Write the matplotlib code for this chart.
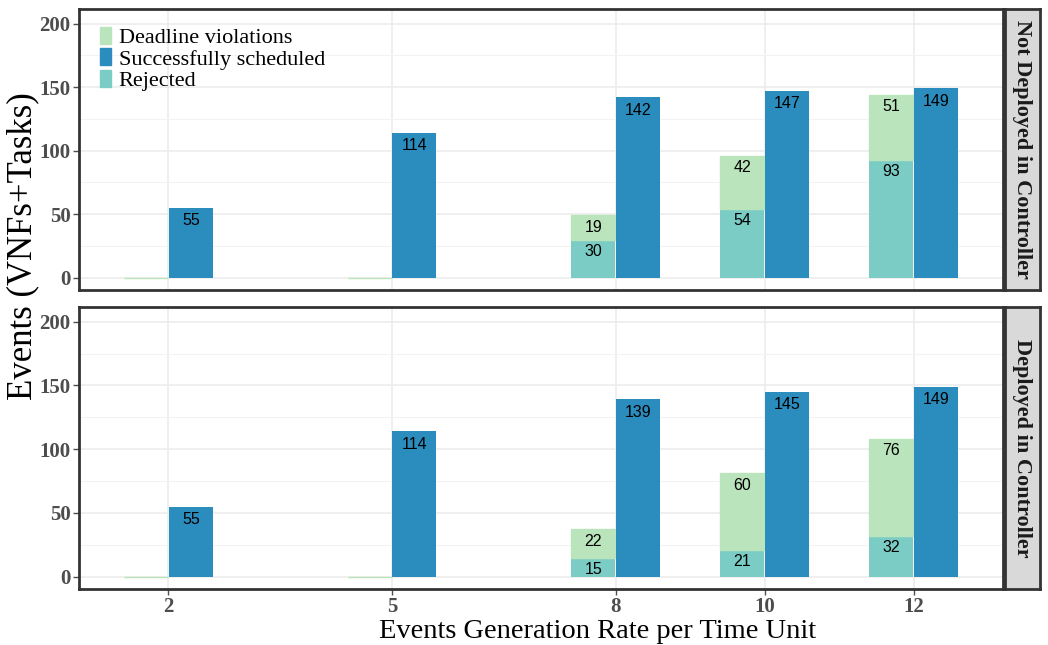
import numpy as np
import matplotlib
matplotlib.use("Agg")
import matplotlib.pyplot as plt
from matplotlib.patches import Patch

# data
rates = [2, 5, 8, 10, 12]
panels = ["Not Deployed in Controller", "Deployed in Controller"]
rejected = {"Not Deployed in Controller": [0, 0, 30, 54, 93],
            "Deployed in Controller": [0, 0, 15, 21, 32]}
deadline = {"Not Deployed in Controller": [0, 0, 19, 42, 51],
            "Deployed in Controller": [0, 0, 22, 60, 76]}
success = {"Not Deployed in Controller": [55, 114, 142, 147, 149],
           "Deployed in Controller": [55, 114, 139, 145, 149]}

c_dead = "#bae4bc"
c_succ = "#2b8cbe"
c_rej = "#7bccc4"

serif = "Liberation Serif"
sans = "Liberation Sans"

fig = plt.figure(figsize=(10.48, 6.45), dpi=100)
W, H = 1048, 645
L, R = 79, 1003
boxes = [(9, 290), (307, 589)]
axes = []
for top, bot in boxes:
    ax = fig.add_axes([L / W, 1 - bot / H, (R - L) / W, (bot - top) / H])
    axes.append(ax)

x = np.array(rates, dtype=float)
bw = 0.59
for i, (ax, name) in enumerate(zip(axes, panels)):
    rj = np.array(rejected[name])
    dl = np.array(deadline[name])
    sc = np.array(success[name])
    ax.bar(x - 0.3, rj, width=bw, color=c_rej, zorder=2)
    ax.bar(x - 0.3, dl, bottom=rj, width=bw, color=c_dead, edgecolor=c_dead,
           linewidth=1.0, zorder=2)
    ax.bar(x + 0.3, sc, width=bw, color=c_succ, zorder=2)
    for xi, r, d, s in zip(x, rj, dl, sc):
        if r > 0:
            ax.annotate(str(r), (xi - 0.3, r), xytext=(0, -3), textcoords="offset points",
                        ha="center", va="top", fontsize=11.5, family=sans, zorder=3)
        if d > 0:
            ax.annotate(str(d), (xi - 0.3, r + d), xytext=(0, -3), textcoords="offset points",
                        ha="center", va="top", fontsize=11.5, family=sans, zorder=3)
        ax.annotate(str(s), (xi + 0.3, s), xytext=(0, -4), textcoords="offset points",
                    ha="center", va="top", fontsize=11.5, family=sans, zorder=3)

    ax.set_xlim(0.8, 13.2)
    ax.set_ylim(-9.7, 211.5)
    ax.set_yticks([0, 50, 100, 150, 200])
    ax.set_yticks([25, 75, 125, 175], minor=True)
    ax.set_xticks(rates)
    ax.grid(True, which="major", color="#ebebeb", linewidth=1.1, zorder=0)
    ax.grid(True, which="minor", axis="y", color="#f3f3f3", linewidth=0.8, zorder=0)
    ax.set_axisbelow(True)
    ax.tick_params(axis="both", which="major", length=4, color="#4d4d4d", width=1,
                   labelsize=15, labelcolor="#4d4d4d", pad=2)
    ax.tick_params(which="minor", length=0)
    for lab in ax.get_yticklabels() + ax.get_xticklabels():
        lab.set_family(serif)
        lab.set_fontweight("bold")
    for sp in ax.spines.values():
        sp.set_color("#333333")
        sp.set_linewidth(2)
    if i == 0:
        ax.tick_params(axis="x", which="both", length=0, labelbottom=False)
        handles = [Patch(color=c_dead, label="Deadline violations"),
                   Patch(color=c_succ, label="Successfully scheduled"),
                   Patch(color=c_rej, label="Rejected")]
        ax.legend(handles=handles, loc="upper left", frameon=False,
                  prop={"family": serif, "size": 16}, handlelength=0.5,
                  handleheight=0.8, handletextpad=0.35, labelspacing=0.0,
                  borderaxespad=0.0, bbox_to_anchor=(0.013, 0.967))

    # facet strip
    top, bot = boxes[i]
    sax = fig.add_axes([1005 / W, 1 - bot / H, 35 / W, (bot - top) / H])
    sax.set_facecolor("#d9d9d9")
    sax.set_xticks([])
    sax.set_yticks([])
    for sp in sax.spines.values():
        sp.set_color("#333333")
        sp.set_linewidth(2)
    sax.text(0.5, 0.5, name, rotation=-90, ha="center", va="center",
             family=serif, fontweight="bold", fontsize=16, color="#1a1a1a",
             transform=sax.transAxes)

fig.text(23 / W, 1 - 246 / H, "Events (VNFs+Tasks)", rotation=90, ha="center",
         va="center", family=serif, fontsize=25)
fig.text(598 / W, 1 - 638 / H, "Events Generation Rate per Time Unit", ha="center",
         va="baseline", family=serif, fontsize=20.5)

fig.savefig("out.png", dpi=100)
